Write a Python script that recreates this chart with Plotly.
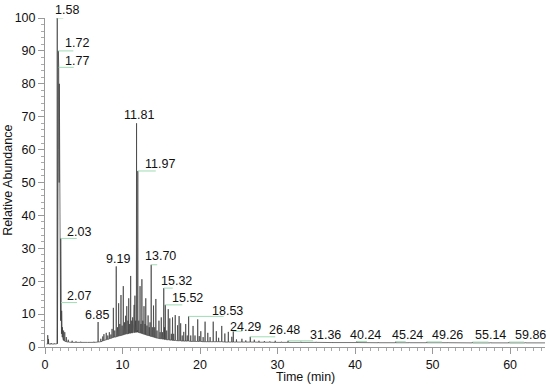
import plotly.graph_objects as go

# ---- chromatogram data (time in min, relative abundance %) ----
peak_time = [0.20, 0.35, 0.45, 0.80, 1.20,
             1.58, 1.72, 1.77, 1.85, 2.03, 2.07,
             2.15, 2.25, 2.40, 2.55, 2.75, 3.00, 3.50, 4.00, 4.60, 5.50, 6.30,
             6.85, 7.20, 7.45, 7.60, 7.90, 8.10, 8.30, 8.50, 8.65, 8.82, 9.00,
             9.19, 9.35, 9.50, 9.65, 9.80, 9.95, 10.10, 10.25, 10.40, 10.55,
             10.70, 10.80, 10.92, 11.05, 11.18, 11.30, 11.42, 11.50, 11.60, 11.70,
             11.81, 11.89, 11.97, 12.10, 12.26, 12.38, 12.50, 12.62, 12.77, 12.90,
             13.00, 13.15, 13.30, 13.45, 13.55, 13.70, 13.85, 14.00, 14.15, 14.30,
             14.45, 14.70, 14.85, 15.00, 15.15, 15.32, 15.42, 15.52, 15.70, 15.90,
             16.10, 16.30, 16.45, 16.60, 16.80, 17.10, 17.30, 17.50, 17.70, 17.90,
             18.15, 18.35, 18.53, 18.80, 19.10, 19.35, 19.70, 19.90, 20.10, 20.40,
             20.65, 21.00, 21.30, 21.70, 22.10, 22.40, 22.80, 23.20, 23.65, 24.10,
             24.29, 24.70, 25.40, 25.90, 26.48, 27.00, 27.60, 28.30, 29.00, 29.70,
             30.50, 31.36, 33.00, 35.00, 37.00, 40.24, 43.00, 45.24, 47.00, 49.26,
             52.00, 55.14, 57.50, 59.86, 62.00, 64.50]
peak_abund = [0.9, 3.6, 2.4, 1.2, 1.1,
              100, 90, 85, 80, 33, 13.5,
              11, 6, 5, 4.5, 3, 2.2, 1.9, 1.7, 1.6, 1.5, 1.6,
              7.6, 2.5, 3.2, 3.9, 4.3, 3.5, 4.5, 3.8, 5.5, 11.9, 5,
              24.5, 6, 13.3, 7, 15.8, 6.5, 18.5, 7.5, 9.5, 12.4,
              8, 14.8, 7, 21.6, 8, 9, 7.5, 12.8, 15.6, 8,
              68, 27, 53.5, 8, 18.5, 7, 20.6, 8, 12.4, 7,
              14.8, 6.5, 9.6, 6, 7.5, 25, 6, 12.6, 6, 14.6,
              5, 8, 4.5, 9, 4.5, 17.9, 6, 12.8, 5, 11.5,
              8.7, 4, 9, 4, 9.7, 6.6, 9.4, 7.2, 3.5, 4.6,
              7, 3.5, 9.3, 3.5, 6.4, 3.5, 8.4, 3.3, 4.8, 3.0,
              7.7, 4.3, 3.0, 7.7, 4.8, 2.8, 6.4, 4.1, 4.6, 3.1,
              4.8, 2.3, 2.5, 2.0, 3.1, 2.2, 1.9, 1.8, 1.7, 1.9,
              1.6, 1.9, 1.6, 1.55, 1.5, 1.7, 1.45, 1.6, 1.4, 1.55,
              1.4, 1.5, 1.35, 1.5, 1.35, 1.25]
peak_foot = [0.9, 0.9, 0.9, 0.9, 0.9,
             1.0, 60, 60, 50, 8, 5,
             4, 3, 2, 1.8, 1.6, 1.5, 1.4, 1.4, 1.4, 1.4, 1.4,
             1.5, 1.6, 1.8, 2.0, 2.2, 2.3, 2.5, 2.6, 2.8, 2.9, 3.0,
             3.1, 3.2, 3.3, 3.4, 3.5, 3.6, 3.7, 3.8, 3.9, 4.0,
             4.0, 4.1, 4.2, 4.2, 4.3, 4.3, 4.4, 4.4, 4.4, 4.5,
             4.5, 5.0, 4.5, 4.4, 4.3, 4.2, 4.1, 4.0, 3.9, 3.8,
             3.7, 3.6, 3.5, 3.4, 3.3, 3.2, 3.1, 3.0, 2.9, 2.8,
             2.7, 2.6, 2.5, 2.5, 2.4, 2.4, 2.3, 2.3, 2.2, 2.2,
             2.1, 2.1, 2.0, 2.0, 2.0, 1.9, 1.9, 1.9, 1.8, 1.8,
             1.8, 1.8, 1.8, 1.7, 1.7, 1.7, 1.7, 1.7, 1.7, 1.6,
             1.6, 1.6, 1.6, 1.6, 1.6, 1.6, 1.6, 1.5, 1.5, 1.5,
             1.5, 1.5, 1.5, 1.5, 1.5, 1.5, 1.45, 1.45, 1.45, 1.4,
             1.4, 1.4, 1.4, 1.4, 1.35, 1.35, 1.3, 1.3, 1.3, 1.3,
             1.3, 1.25, 1.25, 1.25, 1.25, 1.25]

# ---- peak labels ----
label_text = ["1.58", "1.72", "1.77", "11.81", "11.97", "2.03", "2.07", "6.85",
              "9.19", "13.70", "15.32", "15.52", "18.53", "24.29", "26.48",
              "31.36", "40.24", "45.24", "49.26", "55.14", "59.86"]
label_abund = [100, 90, 85, 68, 53.5, 33, 13.5, 7.6,
               24.5, 25, 17.9, 12.8, 9.3, 4.8, 3.1,
               1.9, 1.7, 1.6, 1.55, 1.5, 1.5]

# style: label offsets (px) and leader line lengths (px)
label_dx = [-4, 5, 4, -14.5, 5, 4, 4, -15, -12, -8, -4.7, 4.7, 21.4, -5, 17,
            20, -9, -5.6, 3.2, 0.7, 4.1]
label_dy = [8, 8, 6.3, 8, 7, 6.4, 6.6, 7, 7.4, 8.8, 7, 7, 5.7, 4, 6.8,
            5.7, 6.4, 6.7, 6.7, 6.7, 6.7]
leader_len = [6, 15, 15, 0, 18, 16, 16, 0, 0, 6, 9, 17, 35, 9, 25,
              25, 10, 10, 15, 16, 15]

PX_PER_MIN = 500 / 64.5
W = 0.025

xs, ys = [], []
for t, h, f in zip(peak_time, peak_abund, peak_foot):
    if h == f:
        xs.append(t); ys.append(f)
    else:
        xs += [t - W, t, t + W]
        ys += [f, h, f]

fig = go.Figure()
fig.add_trace(go.Scatter(x=xs, y=ys, mode="lines",
                         line=dict(color="#3a3a3a", width=0.7),
                         hoverinfo="skip", showlegend=False, cliponaxis=False))

FONT = "Liberation Sans, Arial, sans-serif"
shapes = []
annotations = []
for txt, h, dx, dy, L in zip(label_text, label_abund, label_dx, label_dy, leader_len):
    t = float(txt)
    if L > 0:
        shapes.append(dict(type="line", xref="x", yref="y",
                           x0=t, x1=t + L / PX_PER_MIN, y0=h, y1=h,
                           line=dict(color="#9edcb4", width=1)))
    annotations.append(dict(x=t, y=h, xref="x", yref="y", text=txt,
                            showarrow=False, xanchor="left", yanchor="middle",
                            xshift=dx, yshift=dy,
                            font=dict(size=12.5, color="#111", family=FONT)))

annotations.append(dict(x=0.52, y=-0.091, xref="paper", yref="paper",
                        text="Time (min)", showarrow=False,
                        xanchor="center", yanchor="middle",
                        font=dict(size=12.5, color="#111", family=FONT)))
annotations.append(dict(x=-0.074, y=0.505, xref="paper", yref="paper",
                        text="Relative Abundance", showarrow=False, textangle=-90,
                        xanchor="center", yanchor="middle",
                        font=dict(size=12.5, color="#111", family=FONT)))

fig.update_layout(
    template="none",
    width=550, height=389,
    margin=dict(l=45, r=5, t=18, b=42, autoexpand=False),
    paper_bgcolor="white", plot_bgcolor="white",
    font=dict(family=FONT, size=12.5, color="#111"),
    shapes=shapes, annotations=annotations,
    xaxis=dict(range=[0, 64.5], showgrid=False, zeroline=False, automargin=False,
               showline=True, linecolor="#999", linewidth=1,
               ticks="outside", ticklen=6, tickcolor="#999",
               tick0=0, dtick=10,
               minor=dict(ticks="outside", ticklen=3, tickcolor="#aaa", dtick=1),
               tickfont=dict(size=12.5, color="#111")),
    yaxis=dict(range=[0, 100], showgrid=False, zeroline=False, automargin=False,
               showline=True, linecolor="#999", linewidth=1,
               ticks="outside", ticklen=6, tickcolor="#999",
               tick0=0, dtick=10,
               minor=dict(ticks="outside", ticklen=3, tickcolor="#aaa", dtick=2),
               tickfont=dict(size=12.5, color="#111")),
)

fig.write_html("out.html",
               config={"displayModeBar": False},
               post_script="document.body.style.margin='0px';"
                           "document.body.style.overflow='hidden';")
